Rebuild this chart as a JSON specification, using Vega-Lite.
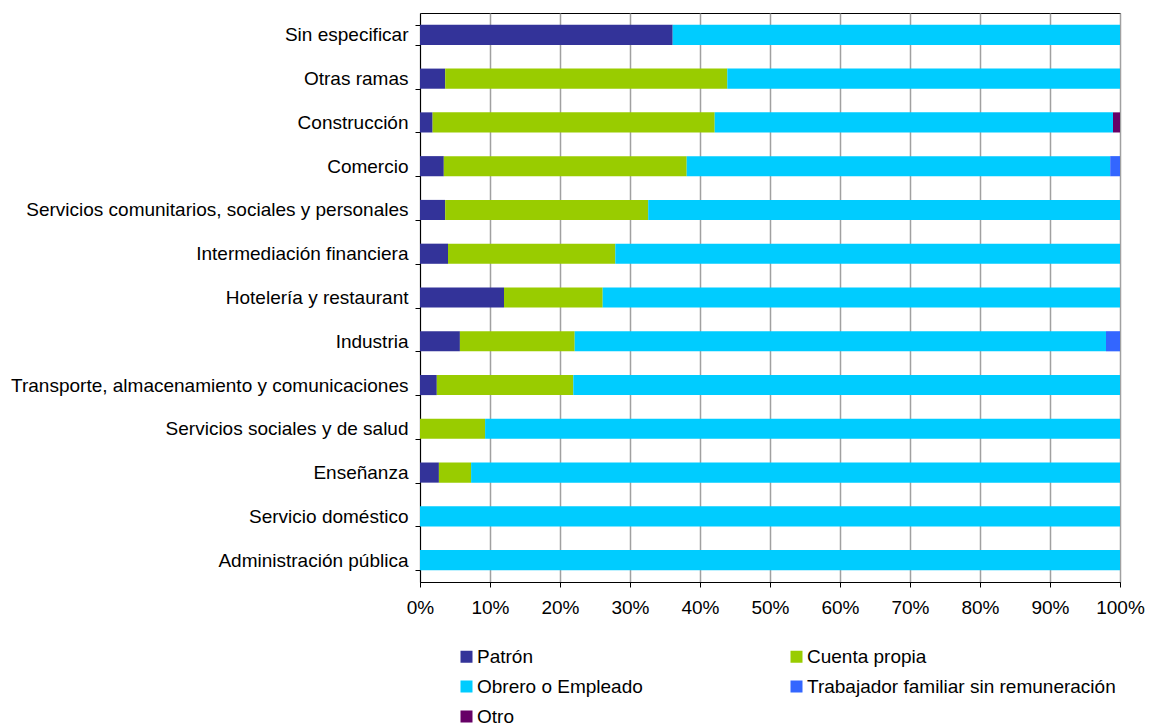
{
  "$schema": "https://vega.github.io/schema/vega-lite/v6.json",
  "width": 700,
  "height": 569,
  "autosize": {"type": "none"},
  "padding": {"left": 420, "top": 13, "right": 31, "bottom": 142},
  "background": "white",
  "config": {
    "font": "Liberation Sans",
    "view": {"stroke": "black", "strokeWidth": 1},
    "axis": {"labelFont": "Liberation Sans", "labelFontSize": 19, "labelColor": "black", "domainColor": "black", "tickColor": "black"}
  },
  "data": {
    "values": [
      {"rama": "Sin especificar", "tipo": "Patrón", "orden": 1, "pct": 36.1},
      {"rama": "Sin especificar", "tipo": "Obrero o Empleado", "orden": 3, "pct": 63.9},
      {"rama": "Otras ramas", "tipo": "Patrón", "orden": 1, "pct": 3.6},
      {"rama": "Otras ramas", "tipo": "Cuenta propia", "orden": 2, "pct": 40.3},
      {"rama": "Otras ramas", "tipo": "Obrero o Empleado", "orden": 3, "pct": 56.1},
      {"rama": "Construcción", "tipo": "Patrón", "orden": 1, "pct": 1.8},
      {"rama": "Construcción", "tipo": "Cuenta propia", "orden": 2, "pct": 40.3},
      {"rama": "Construcción", "tipo": "Obrero o Empleado", "orden": 3, "pct": 56.9},
      {"rama": "Construcción", "tipo": "Otro", "orden": 5, "pct": 1.0},
      {"rama": "Comercio", "tipo": "Patrón", "orden": 1, "pct": 3.4},
      {"rama": "Comercio", "tipo": "Cuenta propia", "orden": 2, "pct": 34.7},
      {"rama": "Comercio", "tipo": "Obrero o Empleado", "orden": 3, "pct": 60.5},
      {"rama": "Comercio", "tipo": "Trabajador familiar sin remuneración", "orden": 4, "pct": 1.4},
      {"rama": "Servicios comunitarios, sociales y personales", "tipo": "Patrón", "orden": 1, "pct": 3.6},
      {"rama": "Servicios comunitarios, sociales y personales", "tipo": "Cuenta propia", "orden": 2, "pct": 29.0},
      {"rama": "Servicios comunitarios, sociales y personales", "tipo": "Obrero o Empleado", "orden": 3, "pct": 67.4},
      {"rama": "Intermediación financiera", "tipo": "Patrón", "orden": 1, "pct": 4.0},
      {"rama": "Intermediación financiera", "tipo": "Cuenta propia", "orden": 2, "pct": 23.9},
      {"rama": "Intermediación financiera", "tipo": "Obrero o Empleado", "orden": 3, "pct": 72.1},
      {"rama": "Hotelería y restaurant", "tipo": "Patrón", "orden": 1, "pct": 12.0},
      {"rama": "Hotelería y restaurant", "tipo": "Cuenta propia", "orden": 2, "pct": 14.1},
      {"rama": "Hotelería y restaurant", "tipo": "Obrero o Empleado", "orden": 3, "pct": 73.9},
      {"rama": "Industria", "tipo": "Patrón", "orden": 1, "pct": 5.7},
      {"rama": "Industria", "tipo": "Cuenta propia", "orden": 2, "pct": 16.4},
      {"rama": "Industria", "tipo": "Obrero o Empleado", "orden": 3, "pct": 75.9},
      {"rama": "Industria", "tipo": "Trabajador familiar sin remuneración", "orden": 4, "pct": 2.0},
      {"rama": "Transporte, almacenamiento y comunicaciones", "tipo": "Patrón", "orden": 1, "pct": 2.4},
      {"rama": "Transporte, almacenamiento y comunicaciones", "tipo": "Cuenta propia", "orden": 2, "pct": 19.5},
      {"rama": "Transporte, almacenamiento y comunicaciones", "tipo": "Obrero o Empleado", "orden": 3, "pct": 78.1},
      {"rama": "Servicios sociales y de salud", "tipo": "Cuenta propia", "orden": 2, "pct": 9.3},
      {"rama": "Servicios sociales y de salud", "tipo": "Obrero o Empleado", "orden": 3, "pct": 90.7},
      {"rama": "Enseñanza", "tipo": "Patrón", "orden": 1, "pct": 2.7},
      {"rama": "Enseñanza", "tipo": "Cuenta propia", "orden": 2, "pct": 4.6},
      {"rama": "Enseñanza", "tipo": "Obrero o Empleado", "orden": 3, "pct": 92.7},
      {"rama": "Servicio doméstico", "tipo": "Obrero o Empleado", "orden": 3, "pct": 100},
      {"rama": "Administración pública", "tipo": "Obrero o Empleado", "orden": 3, "pct": 100}
    ]
  },
  "mark": {"type": "bar"},
  "encoding": {
    "y": {
      "field": "rama",
      "type": "nominal",
      "sort": ["Sin especificar", "Otras ramas", "Construcción", "Comercio", "Servicios comunitarios, sociales y personales", "Intermediación financiera", "Hotelería y restaurant", "Industria", "Transporte, almacenamiento y comunicaciones", "Servicios sociales y de salud", "Enseñanza", "Servicio doméstico", "Administración pública"],
      "scale": {"paddingInner": 0.54, "paddingOuter": 0.27},
      "axis": {"title": null, "tickBand": "extent", "tickSize": 5, "labelPadding": 7, "grid": false, "labelLimit": 500}
    },
    "x": {
      "field": "pct",
      "type": "quantitative",
      "stack": "normalize",
      "scale": {"domain": [0, 1], "nice": false},
      "axis": {"title": null, "format": ".0%", "values": [0, 0.1, 0.2, 0.3, 0.4, 0.5, 0.6, 0.7, 0.8, 0.9, 1], "tickSize": 5, "labelPadding": 11, "grid": true, "gridColor": "#a0a0a0", "gridWidth": 1.5, "labelFlush": false}
    },
    "order": {"field": "orden", "type": "quantitative", "sort": "ascending"},
    "color": {
      "field": "tipo",
      "type": "nominal",
      "sort": ["Patrón", "Cuenta propia", "Obrero o Empleado", "Trabajador familiar sin remuneración", "Otro"],
      "scale": {
        "domain": ["Patrón", "Cuenta propia", "Obrero o Empleado", "Trabajador familiar sin remuneración", "Otro"],
        "range": ["#333399", "#99CC00", "#00CCFF", "#3366FF", "#660066"]
      },
      "legend": {
        "title": null,
        "orient": "none",
        "direction": "horizontal",
        "legendX": 37,
        "legendY": 634,
        "columns": 2,
        "columnPadding": 144,
        "rowPadding": 10,
        "symbolType": "square",
        "symbolSize": 144,
        "symbolStrokeWidth": 0,
        "labelFont": "Liberation Sans",
        "labelFontSize": 19,
        "labelColor": "black",
        "labelOffset": 1,
        "labelLimit": 400
      }
    }
  }
}
